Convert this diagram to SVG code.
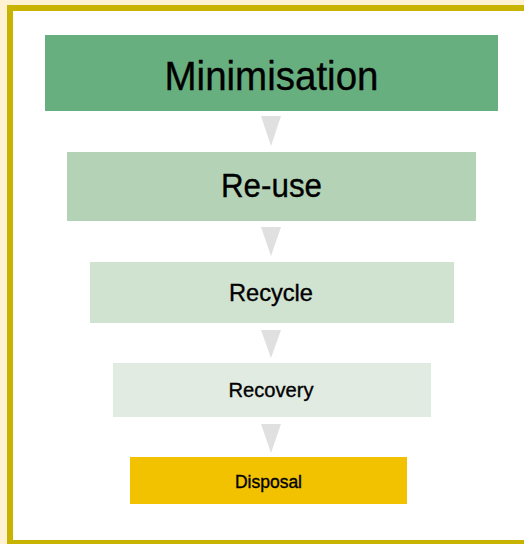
<svg xmlns="http://www.w3.org/2000/svg" width="524" height="544" viewBox="0 0 524 544">
  <style>
    .lbl { font-family: "Liberation Sans", Arial, sans-serif; fill: #000; text-anchor: middle; stroke: #000; stroke-width: 0.35; }
    .arr { fill: #E0E0E0; }
  </style>
  <rect x="0" y="0" width="524" height="544" fill="#FFF2D2"/>
  <rect x="10" y="8" width="600" height="535" fill="#FFFFFF" stroke="#C8B400" stroke-width="6"/>
  <g id="connectors">
    <polygon class="arr" points="261,116 281,116 271,146"/>
    <polygon class="arr" points="261,227 281,227 271,256"/>
    <polygon class="arr" points="261,330 281,330 271,358"/>
    <polygon class="arr" points="261,424 281,424 271,453"/>
  </g>
  <g id="minimisation">
    <rect x="45" y="35" width="453" height="76" fill="#68AF80"/>
    <text class="lbl" x="271.5" y="90" font-size="40" textLength="214" lengthAdjust="spacingAndGlyphs">Minimisation</text>
  </g>
  <g id="reuse">
    <rect x="67" y="152" width="409" height="69" fill="#B4D3B6"/>
    <text class="lbl" x="271.5" y="197" font-size="33" textLength="101" lengthAdjust="spacingAndGlyphs">Re-use</text>
  </g>
  <g id="recycle">
    <rect x="90" y="262" width="364" height="61" fill="#D0E2D0"/>
    <text class="lbl" x="271" y="301" font-size="24" textLength="84" lengthAdjust="spacingAndGlyphs">Recycle</text>
  </g>
  <g id="recovery">
    <rect x="113" y="363" width="318" height="54" fill="#E2EBE2"/>
    <text class="lbl" x="271" y="397" font-size="20" textLength="85" lengthAdjust="spacingAndGlyphs">Recovery</text>
  </g>
  <g id="disposal">
    <rect x="130" y="457" width="277" height="47" fill="#F2C200"/>
    <text class="lbl" x="268.5" y="487.5" font-size="17.5" textLength="67" lengthAdjust="spacingAndGlyphs">Disposal</text>
  </g>
</svg>
